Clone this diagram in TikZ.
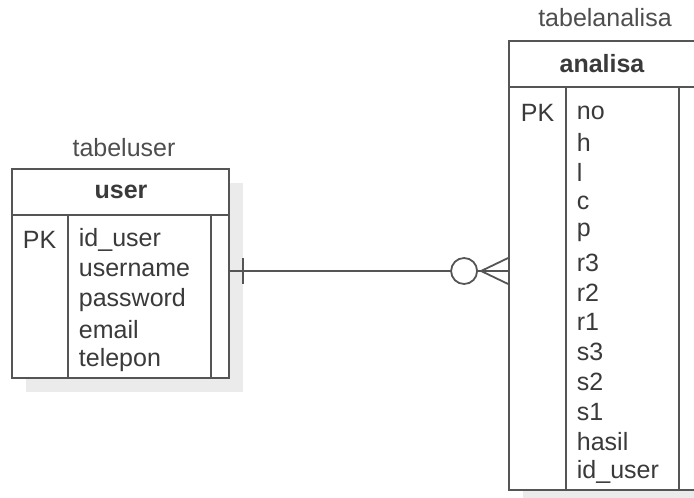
\documentclass[tikz,border=0pt]{standalone}
\usepackage{fontspec}
\setmainfont{Liberation Sans}
\usetikzlibrary{positioning, calc}

\definecolor{linegray}{HTML}{555555}
\definecolor{textgray}{HTML}{3A3A3A}
\definecolor{shadowgray}{HTML}{EBEBEB}

\begin{document}
\begin{tikzpicture}[%
        x = 1pt, y = -1pt,
        line width = 1.8pt,
        tablebox/.style = {%
            draw = linegray,
            fill = white,
            rectangle,
            inner sep = 0pt
        },
        shadowbox/.style = {%
            fill = shadowgray,
            draw = none,
            rectangle,
            inner sep = 0pt
        },
        rowtext/.style = {%
            anchor = west,
            inner sep = 0pt,
            text = textgray,
            font = \fontsize{25}{30}\selectfont
        },
        headtext/.style = {%
            rowtext,
            anchor = center,
            font = \fontsize{25}{30}\selectfont\bfseries
        },
        titletext/.style = {%
            rowtext,
            anchor = center,
            text = textgray!90
        }
    ]

        \clip (0, 0) rectangle (694, 498);
        \fill[white] (0, 0) rectangle (694, 498);

        % Shadows behind the tables.
        \node[shadowbox, minimum width = 217pt, minimum height = 209pt]
            at (134.5, 287.5) {};
        \node[shadowbox, minimum width = 188pt, minimum height = 449pt]
            at (617, 279.5) {};

        % Table user.
        \node[tablebox, minimum width = 217pt, minimum height = 209pt]
            (user) at (120.5, 273.5) {};
        \draw[linegray] (12, 215) -- (229, 215);
        \draw[linegray] (68, 215) -- (68, 378);
        \draw[linegray] (211, 215) -- (211, 378);

        \node[titletext] (usertitle) at (124, 148) {tabeluser};
        \node[headtext]  (userhead)  at (121, 192) {user};
        \node[rowtext]   (userpk)    at (22, 240)  {PK};
        \foreach \f [count = \i from 0] in
            {id\_user, username, password, email, telepon}{%
            \node[rowtext] (userrow\i) at (78, 240 + 30*\i) {\f};
        }

        % Table analisa.
        \node[tablebox, minimum width = 188pt, minimum height = 449pt]
            (analisa) at (603, 265.5) {};
        \draw[linegray] (509, 87) -- (697, 87);
        \draw[linegray] (566, 87) -- (566, 490);
        \draw[linegray] (679, 87) -- (679, 490);

        \node[titletext] (analisatitle) at (605, 18) {tabelanalisa};
        \node[headtext]  (analisahead)  at (602, 64) {analisa};
        \node[rowtext]   (analisapk)    at (520, 113) {PK};
        \foreach \f [count = \i from 0] in
            {no, h, l, c, p, r3, r2, r1, s3, s2, s1, hasil, id\_user}{%
            \node[rowtext] (analisarow\i) at (576, 113 + 29.9*\i) {\f};
        }

        % Relation: one user to many analisa.
        \coordinate (relone)  at (user.east |- 0, 271);
        \coordinate (relmany) at (analisa.west |- relone);
        \draw[linegray] (relone) -- (relmany);
        \draw[linegray] ($(relone) + (13, -13)$) -- ($(relone) + (13, 13)$);
        \draw[linegray] ($(relmany) + (-27, 0)$) -- ($(relmany) + (0, -13)$);
        \draw[linegray] ($(relmany) + (-27, 0)$) -- ($(relmany) + (0, 13)$);
        \draw[linegray, fill = white] ($(relmany) + (-44, 0)$) circle (13pt);
    \end{tikzpicture}
\end{document}
